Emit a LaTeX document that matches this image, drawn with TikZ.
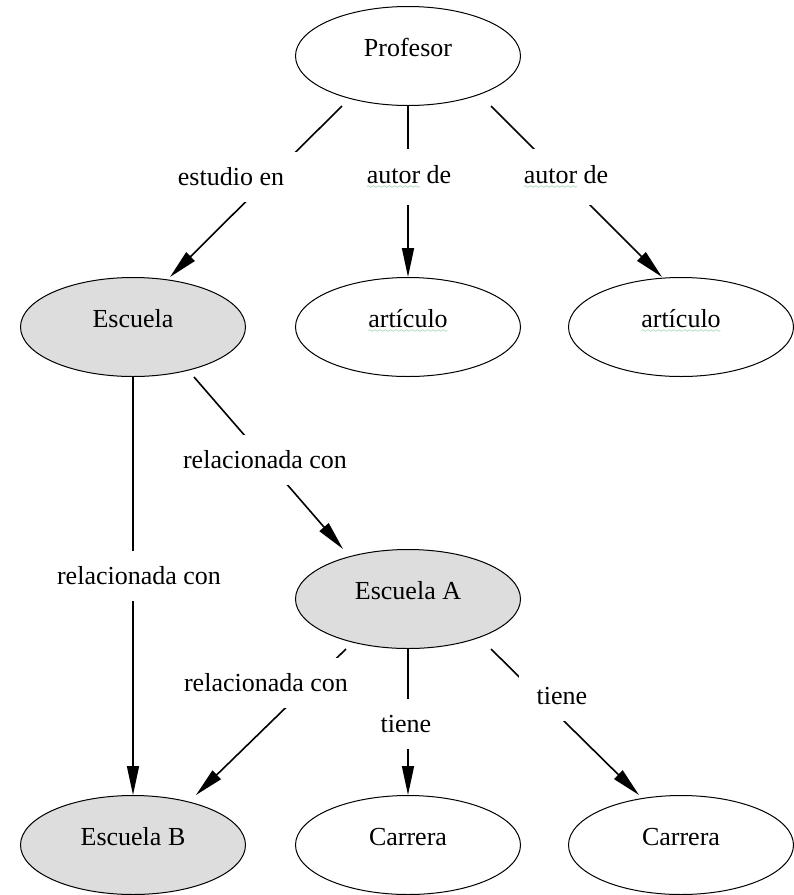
\documentclass[tikz,border=0pt]{standalone}
\usepackage{fontspec}
\setmainfont{Liberation Serif}
\usetikzlibrary{shapes.geometric,arrows.meta}
\definecolor{schoolgray}{RGB}{221,221,221}
\definecolor{spellgreen}{RGB}{30,150,50}
\font\wavefont=lasy6
% green wavy mark under a word
\newcommand\spellwave[1]{\setbox0\hbox{#1}\rlap{\textcolor{spellgreen}{\lower5pt\hbox to\wd0{\xleaders\hbox{\wavefont\char58}\hfil}}}\box0\relax}
\tikzset{
  concept/.style={ellipse,draw,line width=1pt,minimum width=225pt,minimum height=99pt,
    inner sep=0pt,text height=10pt,text depth=10pt,font=\fontsize{26}{31}\selectfont},
  school/.style={concept,fill=schoolgray},
  link/.style={line width=1.6pt,-{Triangle[length=29pt,width=12pt]}},
  lbl/.style={fill=white,inner xsep=18pt,inner ysep=16pt,font=\fontsize{26}{31}\selectfont}
}
\begin{document}
\begin{tikzpicture}[x=1pt,y=-1pt]
\useasboundingbox (0,0) rectangle (794,895);
% concepts
\node[concept] (prof) at (408,56) {Profesor};
\node[school]  (esc)  at (133,327) {Escuela};
\node[concept] (art1) at (408,327) {\spellwave{artículo}};
\node[concept] (art2) at (681,327) {\spellwave{artículo}};
\node[school]  (escA) at (408,599) {Escuela A};
\node[school]  (escB) at (133,845) {Escuela B};
\node[concept] (car1) at (408,845) {Carrera};
\node[concept] (car2) at (681,845) {Carrera};
% Profesor
\draw[link] ([xshift=-66pt]prof.south) -- ([xshift=37pt]esc.north)
  node[lbl] at (231,177) {estudio en};
\draw[link] (prof.south) -- (art1.north)
  node[lbl] at (409,177) {\spellwave{autor} de};
\draw[link] ([xshift=83pt]prof.south) -- ([xshift=-19pt]art2.north)
  node[lbl] at (566,177) {\spellwave{autor} de};
% Escuela
\draw[link] ([xshift=61pt]esc.south) -- ([xshift=-65pt]escA.north)
  node[lbl] at (265,460) {relacionada con};
\draw[link] (esc.south) -- (escB.north)
  node[lbl] at (139,576) {relacionada con};
% Escuela A
\draw[link] ([xshift=-62pt]escA.south) -- ([xshift=63pt]escB.north)
  node[lbl] at (266,683) {relacionada con};
\draw[link] (escA.south) -- (car1.north)
  node[lbl] at (406,724) {tiene};
\draw[link] ([xshift=83pt]escA.south) -- ([xshift=-42pt]car2.north)
  node[lbl] at (562,696) {tiene};
\end{tikzpicture}
\end{document}
